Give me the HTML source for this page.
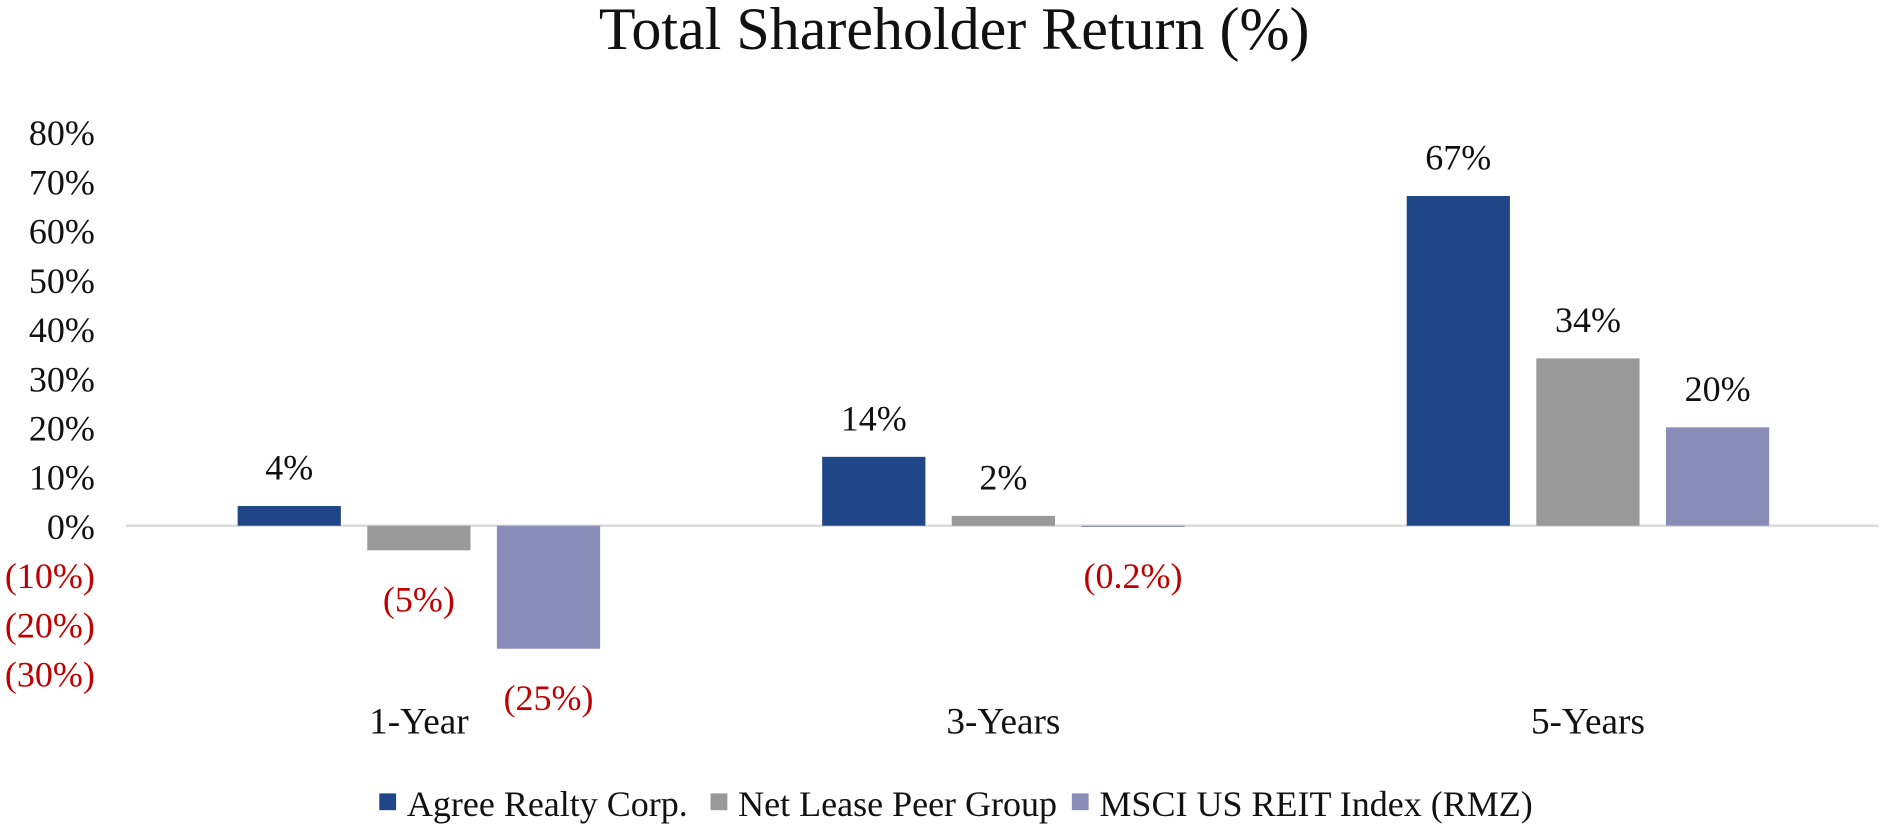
<!DOCTYPE html>
<html><head><meta charset="utf-8"><style>
html,body{margin:0;padding:0;background:#fff;}
svg text{font-family:"Liberation Serif",serif;}
</style></head><body>
<svg id="chart" width="1882" height="827" viewBox="0 0 1568 689" xmlns="http://www.w3.org/2000/svg">
<text x="795" y="41" font-size="50" text-anchor="middle" fill="#111">Total Shareholder Return (%)</text>
<g id="yaxis"></g>
<line x1="105" x2="1565" y1="438" y2="438" stroke="#d9d9d9" stroke-width="2"/>
<g id="bars"></g>
<g id="legend">
 <g><rect x="316" y="661" width="14" height="14" fill="#1F4788"/><text x="339" y="680" font-size="30" fill="#111">Agree Realty Corp.</text></g>
 <g><rect x="592" y="661" width="14" height="14" fill="#999999"/><text x="615" y="680" font-size="30" fill="#111">Net Lease Peer Group</text></g>
 <g><rect x="893" y="661" width="14" height="14" fill="#8A8DB8"/><text x="916" y="680" font-size="30" fill="#111">MSCI US REIT Index (RMZ)</text></g>
</g>
</svg>
<script>
const categories = ["1-Year", "3-Years", "5-Years"];
const agreeValues = [4, 14, 67];
const peerValues = [-5, 2, 34];
const msciValues = [-25, -0.2, 20];
const valueLabels = [["4%","(5%)","(25%)"],["14%","2%","(0.2%)"],["67%","34%","20%"]];
const yTicks = [80,70,60,50,40,30,20,10,0,-10,-20,-30];
const yTickLabels = ["80%","70%","60%","50%","40%","30%","20%","10%","0%","(10%)","(20%)","(30%)"];

const NS="http://www.w3.org/2000/svg";
const zeroY=438, pxPer=4.1;
const y=v=>zeroY - v*pxPer;
const groupCenter=i=>349 + i*487;
const barW=86, step=108;
const colors=["#1F4788","#999999","#8A8DB8"];
const series=[agreeValues,peerValues,msciValues];
const names=["agree","peer","msci"];
const RED="#C00000";

const ya=document.getElementById('yaxis');
yTicks.forEach((t,i)=>{
  const tx=document.createElementNS(NS,'text');
  
  
  tx.setAttribute('x',79);tx.setAttribute('y',y(t)+11);
  tx.setAttribute('text-anchor','end');tx.setAttribute('font-size','30');
  tx.setAttribute('fill',t<0?RED:'#111');
  tx.textContent=yTickLabels[i];ya.appendChild(tx);
});

const bg=document.getElementById('bars');
categories.forEach((c,i)=>{
  const cx=groupCenter(i);
  series.forEach((s,j)=>{
    const v=s[i];
    const x=cx+(j-1)*step-barW/2;
    const r=document.createElementNS(NS,'rect');
    
    
    r.setAttribute('x',x);r.setAttribute('width',barW);
    r.setAttribute('y',Math.min(y(v),zeroY));
    r.setAttribute('height',Math.max(Math.abs(y(v)-zeroY),1));
    r.setAttribute('fill',colors[j]);bg.appendChild(r);
    const t=document.createElementNS(NS,'text');
    
    
    t.setAttribute('x',x+barW/2);
    t.setAttribute('y',v>=0?y(v)-22:y(v)+51);
    t.setAttribute('text-anchor','middle');t.setAttribute('font-size','30');
    t.setAttribute('fill',v<0?RED:'#111');
    t.textContent=valueLabels[i][j];bg.appendChild(t);
  });
  const ct=document.createElementNS(NS,'text');
  
  
  ct.setAttribute('x',cx);ct.setAttribute('y',611);
  ct.setAttribute('text-anchor','middle');ct.setAttribute('font-size','31');
  ct.setAttribute('fill','#111');ct.textContent=c;bg.appendChild(ct);
});
</script>
</body></html>
